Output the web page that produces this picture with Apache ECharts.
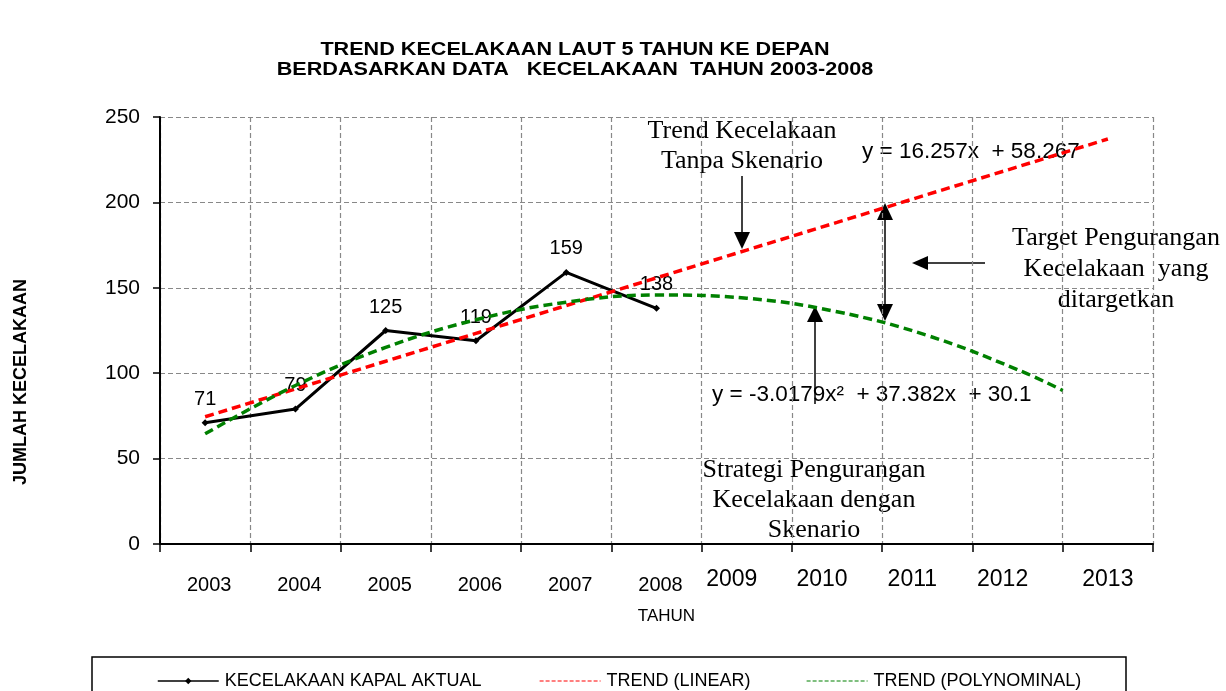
<!DOCTYPE html>
<html>
<head>
<meta charset="utf-8">
<script src="https://cdn.jsdelivr.net/npm/echarts@6/dist/echarts.min.js"></script>
<style>
  html, body { margin: 0; padding: 0; background: #fff; }
  #chart { width: 1226px; height: 691px; }
</style>
</head>
<body>
<div id="chart"></div>
<script>
// data
var years = ['2003', '2004', '2005', '2006', '2007', '2008', '2009', '2010', '2011', '2012', '2013'];
var actual = [71, 79, 125, 119, 159, 138];

// trend lines, x = year number (2003 = 1)
var linearPos = [1, 2, 3, 4, 5, 6, 7, 8, 9, 10, 11];
var linearTrend = [74.5, 90.8, 107.0, 123.3, 139.6, 155.8, 172.1, 188.3, 204.6, 220.8, 237.1];
var polyPos = [1, 2, 3, 4, 5, 6, 7, 8, 9, 10, 10.5];
var polyTrend = [64.5, 92.8, 115.1, 131.3, 141.6, 145.8, 143.9, 136.0, 122.1, 102.1, 89.9];

var yMin = 0, yMax = 250, yStep = 50;

var SANS = '"Liberation Sans", Arial, sans-serif';
var SERIF = '"Liberation Serif", "Times New Roman", serif';

function pairs(xs, ys) {
  return xs.map(function (x, i) { return [x, ys[i]]; });
}

function arrowLine(x1, y1, x2, y2) {
  return { type: 'line', shape: { x1: x1, y1: y1, x2: x2, y2: y2 }, style: { stroke: '#000', lineWidth: 1.5 } };
}
function head(points) {
  return { type: 'polygon', shape: { points: points }, style: { fill: '#000' } };
}

var legendText = { fontFamily: SANS, fontSize: 18, color: '#000', padding: [0, 0, 0, 1] };

var chart = echarts.init(document.getElementById('chart'));
chart.setOption({
  animation: false,
  grid: { left: 160, right: 73, top: 117, bottom: 147 },
  xAxis: [
    {
      type: 'category',
      data: years,
      boundaryGap: true,
      axisLine: { lineStyle: { color: '#000', width: 2 } },
      axisTick: { show: true, inside: false, length: 8, lineStyle: { color: '#000', width: 1.5 } },
      splitLine: { show: true, lineStyle: { color: '#888', type: [5, 3], width: 1.2 } },
      axisLabel: {
        margin: 24,
        interval: 0,
        formatter: function (v, i) {
          if (i < 6) return '{a|' + v + '}';
          if (i < 10) return '{b|' + v + '}';
          return '{c|' + v + '}';
        },
        rich: {
          a: { fontFamily: SANS, fontSize: 20, color: '#000', padding: [7, 0, 0, 8] },
          b: { fontFamily: SANS, fontSize: 23, color: '#000', padding: [0, 30, 0, 0] },
          c: { fontFamily: SANS, fontSize: 23, color: '#000', padding: [0, 0, 0, 0] }
        }
      },
      name: 'TAHUN',
      nameLocation: 'middle',
      nameGap: 64,
      nameTextStyle: { fontFamily: SANS, fontSize: 17, color: '#000', padding: [0, 0, 0, 20] }
    },
    {
      type: 'value',
      min: 0.5,
      max: 11.5,
      show: false
    }
  ],
  yAxis: {
    type: 'value',
    min: yMin,
    max: yMax,
    interval: yStep,
    axisLine: { show: true, lineStyle: { color: '#000', width: 2 } },
    axisTick: { show: true, inside: false, length: 7, lineStyle: { color: '#000', width: 1.5 } },
    splitLine: { show: true, lineStyle: { color: '#888', type: [5, 3], width: 1.2 } },
    axisLabel: { fontFamily: SANS, fontSize: 21, color: '#000', margin: 20 }
  },
  legend: [
    {
      data: ['KECELAKAAN KAPAL AKTUAL'],
      left: 152, top: 667,
      itemWidth: 61, itemHeight: 8,
      lineStyle: { width: 1.5 },
      textStyle: legendText
    },
    {
      data: ['TREND (LINEAR)'],
      left: 534, top: 667,
      itemWidth: 61, itemHeight: 8,
      lineStyle: { width: 1.2, type: [4, 2] },
      itemStyle: { opacity: 0 },
      textStyle: legendText
    },
    {
      data: ['TREND (POLYNOMINAL)'],
      left: 801, top: 667,
      itemWidth: 61, itemHeight: 8,
      lineStyle: { width: 1.2, type: [4, 2] },
      itemStyle: { opacity: 0 },
      textStyle: legendText
    }
  ],
  series: [
    {
      name: 'KECELAKAAN KAPAL AKTUAL',
      type: 'line',
      data: actual,
      symbol: 'diamond',
      symbolSize: 7,
      itemStyle: { color: '#000' },
      lineStyle: { color: '#000', width: 3 },
      label: { show: true, position: 'top', distance: 10, fontFamily: SANS, fontSize: 20, color: '#000' },
      z: 3
    },
    {
      name: 'TREND (LINEAR)',
      type: 'line',
      xAxisIndex: 1,
      data: pairs(linearPos, linearTrend),
      symbol: 'none',
      itemStyle: { color: '#ff0000' },
      lineStyle: { color: '#ff0000', width: 3.5, type: [9, 5] },
      z: 4
    },
    {
      name: 'TREND (POLYNOMINAL)',
      type: 'line',
      xAxisIndex: 1,
      data: pairs(polyPos, polyTrend),
      smooth: 0.4,
      symbol: 'none',
      itemStyle: { color: '#008000' },
      lineStyle: { color: '#008000', width: 3.5, type: [9, 5] },
      z: 4
    }
  ],
  graphic: [
    // title (stretched horizontally like the original)
    {
      type: 'text', x: 575, y: 40, scaleX: 1.2,
      style: {
        text: 'TREND KECELAKAAN LAUT 5 TAHUN KE DEPAN\nBERDASARKAN DATA   KECELAKAAN  TAHUN 2003-2008',
        font: 'bold 18px ' + SANS, fill: '#000', textAlign: 'center', lineHeight: 20
      }
    },
    // y axis title
    {
      type: 'text', x: 21, y: 382, rotation: Math.PI / 2,
      style: { text: 'JUMLAH KECELAKAAN', font: 'bold 18px ' + SANS, fill: '#000', textAlign: 'center', textVerticalAlign: 'middle' }
    },
    // annotation: trend without scenario
    {
      type: 'text', x: 742, y: 116,
      style: { text: 'Trend Kecelakaan\nTanpa Skenario', font: '26px ' + SERIF, fill: '#000', textAlign: 'center', lineHeight: 30 }
    },
    arrowLine(742, 176, 742, 234),
    head([[734, 232], [750, 232], [742, 249]]),
    {
      type: 'text', x: 862, y: 152,
      style: { text: 'y = 16.257x  + 58.267', font: '22.5px ' + SANS, fill: '#000', textVerticalAlign: 'middle' }
    },
    // double arrow at 2011
    arrowLine(885, 218, 885, 306),
    head([[877, 220], [893, 220], [885, 203]]),
    head([[877, 304], [893, 304], [885, 321]]),
    // target text + left arrow
    {
      type: 'text', x: 1116, y: 223,
      style: { text: 'Target Pengurangan\nKecelakaan  yang\nditargetkan', font: '26px ' + SERIF, fill: '#000', textAlign: 'center', lineHeight: 31 }
    },
    arrowLine(985, 263, 926, 263),
    head([[928, 256], [928, 270], [912, 263]]),
    // polynomial equation + up arrow
    {
      type: 'text', x: 712, y: 395,
      style: { text: 'y = -3.0179x\u00b2  + 37.382x  + 30.1', font: '22.5px ' + SANS, fill: '#000', textVerticalAlign: 'middle' }
    },
    arrowLine(815, 404, 815, 320),
    head([[807, 322], [823, 322], [815, 306]]),
    {
      type: 'text', x: 814, y: 455,
      style: { text: 'Strategi Pengurangan\nKecelakaan dengan\nSkenario', font: '26px ' + SERIF, fill: '#000', textAlign: 'center', lineHeight: 30 }
    },
    // legend frame
    {
      type: 'rect', shape: { x: 92, y: 657, width: 1034, height: 50 },
      style: { fill: 'none', stroke: '#000', lineWidth: 1.5 }, z: -1
    }
  ]
});
</script>
</body>
</html>
